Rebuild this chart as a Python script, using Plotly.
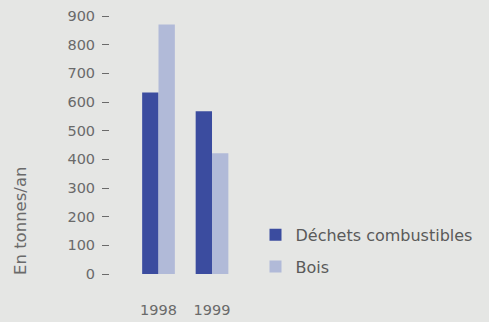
import plotly.graph_objects as go

years = ["1998", "1999"]
dechets = [633, 568]
bois = [870, 421]
y_ticks = [0, 100, 200, 300, 400, 500, 600, 700, 800, 900]

DARK = "#3b4c9f"
LIGHT = "#b1bad8"
BG = "#e5e6e4"
TXT = "#6a6a6a"
FONT = "DejaVu Sans, Liberation Sans, sans-serif"

# plot area in pixels
W, H = 489, 322
L, R, T, B = 110, 249, 16, 48
PW, PH = W - L - R, H - T - B


def px_x(x):
    return (x - L) / PW


def px_y(y):
    return (H - B - y) / PH


fig = go.Figure()
fig.add_bar(x=years, y=dechets, name="Déchets combustibles",
            marker=dict(color=DARK, line=dict(width=0)), legendgroup="a")
fig.add_bar(x=years, y=bois, name="Bois",
            marker=dict(color=LIGHT, line=dict(width=0)), legendgroup="b")

fig.update_layout(
    width=W, height=H,
    margin=dict(l=L, r=R, t=T, b=B),
    paper_bgcolor=BG, plot_bgcolor=BG,
    barmode="group", bargap=0.389, bargroupgap=0,
    font=dict(family=FONT, size=14.5, color=TXT),
    showlegend=True,
    legend=dict(x=px_x(255.5), xanchor="left", y=px_y(250.75), yanchor="middle",
                bgcolor="rgba(0,0,0,0)", font=dict(size=16, color="#5a5a5a"),
                tracegroupgap=8, traceorder="grouped"),
    xaxis=dict(type="category", range=[-0.9065, 1.523], showline=False,
               showgrid=False, zeroline=False, ticks="", automargin=False,
               tickfont=dict(size=14.5, color=TXT), ticklabelstandoff=25),
    yaxis=dict(range=[0, 900], tickvals=y_ticks, showline=False,
               showgrid=False, zeroline=False, ticks="outside", ticklen=7,
               tickwidth=1.3, tickcolor=TXT, ticklabelstandoff=4,
               automargin=False, tickfont=dict(size=14.5, color=TXT)),
    annotations=[dict(text="En tonnes/an", textangle=-90,
                      x=px_x(20), y=px_y(221), xref="paper", yref="paper",
                      xanchor="center", yanchor="middle", showarrow=False,
                      font=dict(size=16.5, color=TXT))],
)

fig.write_html("out.html")
